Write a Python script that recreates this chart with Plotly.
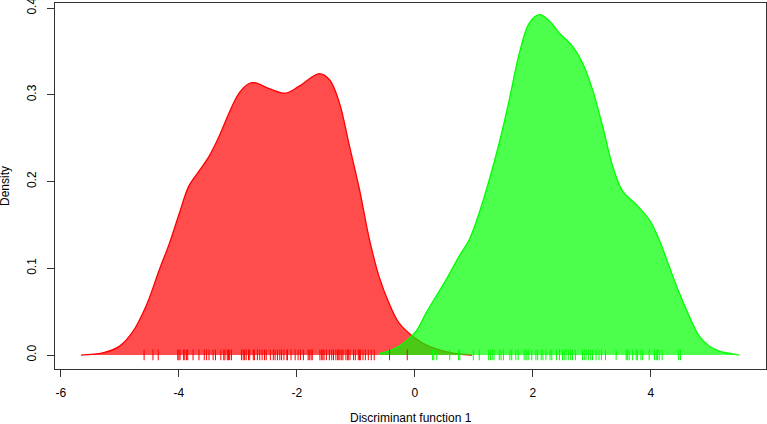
import plotly.graph_objects as go

# Density curve of group 1 (red)
red_x = [-5.66, -5.29, -5.01, -4.79, -4.56, -4.33, -4.16, -3.99, -3.83, -3.66, -3.49,
         -3.32, -3.15, -2.98, -2.81, -2.70, -2.47, -2.19, -1.96, -1.62, -1.45, -1.28,
         -1.11, -0.94, -0.77, -0.61, -0.44, -0.27, -0.04, 0.24, 0.58, 0.75, 0.97]
red_y = [0.0, 0.0025, 0.010, 0.026, 0.056, 0.0986, 0.129, 0.164, 0.195, 0.212, 0.229,
         0.252, 0.279, 0.302, 0.313, 0.3138, 0.307, 0.3018, 0.310, 0.3245, 0.3176, 0.2907,
         0.241, 0.191, 0.133, 0.091, 0.060, 0.037, 0.0217, 0.010, 0.0032, 0.0012, 0.0]

# Density curve of group 2 (green)
green_x = [-0.61, -0.38, -0.15, 0.02, 0.19, 0.36, 0.53, 0.75, 0.92, 1.09, 1.26, 1.43,
           1.60, 1.77, 1.94, 2.11, 2.28, 2.45, 2.67, 2.84, 3.01, 3.18, 3.35, 3.52, 3.75,
           3.97, 4.14, 4.31, 4.48, 4.65, 4.82, 4.99, 5.16, 5.50]
green_y = [0.0017, 0.0063, 0.016, 0.0274, 0.0486, 0.068, 0.087, 0.114, 0.133, 0.164,
           0.202, 0.245, 0.2945, 0.348, 0.383, 0.3925, 0.385, 0.371, 0.356, 0.337, 0.306,
           0.264, 0.218, 0.189, 0.1735, 0.156, 0.133, 0.102, 0.0717, 0.0447, 0.0217,
           0.0101, 0.0044, 0.0]

# Rug observations
red_rug = [-4.59, -4.44, -4.35, -4.02, -4.00, -3.98, -3.92, -3.90, -3.87, -3.85, -3.76,
           -3.66, -3.57, -3.53, -3.49, -3.42, -3.38, -3.29, -3.24, -3.22, -3.18, -3.16,
           -3.14, -3.11, -2.94, -2.91, -2.89, -2.86, -2.82, -2.80, -2.74, -2.72, -2.67,
           -2.63, -2.59, -2.55, -2.52, -2.45, -2.40, -2.37, -2.33, -2.29, -2.26, -2.22,
           -2.17, -2.16, -2.10, -2.03, -1.98, -1.94, -1.89, -1.81, -1.79, -1.76, -1.74,
           -1.61, -1.58, -1.56, -1.54, -1.50, -1.45, -1.41, -1.38, -1.34, -1.31, -1.29,
           -1.27, -1.24, -1.22, -1.17, -1.14, -1.13, -1.10, -1.04, -1.01, -0.96, -0.94,
           -0.92, -0.88, -0.84, -0.79, -0.74, -0.69, -0.43, -0.13]
green_rug = [0.30, 0.32, 0.37, 0.59, 0.74, 0.76, 0.99, 1.09, 1.25, 1.28, 1.31, 1.34,
             1.43, 1.46, 1.50, 1.61, 1.64, 1.71, 1.75, 1.85, 1.88, 1.90, 1.93, 1.98,
             2.05, 2.08, 2.14, 2.17, 2.22, 2.29, 2.32, 2.40, 2.45, 2.50, 2.53, 2.56,
             2.60, 2.64, 2.67, 2.72, 2.84, 2.87, 2.90, 2.94, 2.98, 3.01, 3.07, 3.12,
             3.16, 3.23, 3.41, 3.58, 3.60, 3.63, 3.69, 3.75, 3.77, 3.83, 3.86, 3.97,
             4.06, 4.09, 4.11, 4.14, 4.19, 4.47, 4.50]
rug_span = [-0.006, 0.0063]

x_ticks = [-6, -4, -2, 0, 2, 4]
y_ticks = [0.0, 0.1, 0.2, 0.3, 0.4]

FONT = "Liberation Sans, Arial, Helvetica, sans-serif"


def rug_coords(vals):
    xs, ys = [], []
    for v in vals:
        xs += [v, v, None]
        ys += [rug_span[0], rug_span[1], None]
    return xs, ys


fig = go.Figure()
fig.add_trace(go.Scatter(x=red_x, y=red_y, mode="lines", fill="tozeroy",
                         line=dict(color="rgb(255,0,0)", width=1.3, shape="spline", smoothing=1.0),
                         fillcolor="rgba(255,0,0,0.7)", hoverinfo="skip"))
fig.add_trace(go.Scatter(x=green_x, y=green_y, mode="lines", fill="tozeroy",
                         line=dict(color="rgb(0,255,0)", width=1.3, shape="spline", smoothing=1.0),
                         fillcolor="rgba(0,255,0,0.7)", hoverinfo="skip"))
rx, ry = rug_coords(red_rug)
fig.add_trace(go.Scatter(x=rx, y=ry, mode="lines", line=dict(color="rgb(255,0,0)", width=1),
                         hoverinfo="skip"))
gx, gy = rug_coords(green_rug)
fig.add_trace(go.Scatter(x=gx, y=gy, mode="lines", line=dict(color="rgb(0,255,0)", width=1),
                         hoverinfo="skip"))

axis_common = dict(showgrid=False, zeroline=False, showline=True, mirror=True,
                   linecolor="#333333", linewidth=1, ticks="outside", ticklen=7,
                   tickcolor="#333333", tickwidth=1, automargin=False,
                   tickfont=dict(family=FONT, size=12, color="black"))

fig.update_layout(
    width=767, height=424,
    margin=dict(l=55, r=1, t=3, b=55, autoexpand=False),
    paper_bgcolor="white", plot_bgcolor="white",
    showlegend=False,
    xaxis=dict(range=[-6.1, 5.95], tickvals=x_ticks, ticktext=[str(v) for v in x_ticks],
               ticklabelstandoff=6, **axis_common),
    yaxis=dict(range=[-0.0161, 0.4058], tickvals=y_ticks,
               ticktext=["%.1f" % v for v in y_ticks], tickangle=-90,
               ticklabeloverflow="allow", ticklabelstandoff=6, **axis_common),
    annotations=[
        dict(text="Discriminant function 1", xref="paper", yref="paper", x=0.5, y=-0.134,
             xanchor="center", yanchor="middle", showarrow=False,
             font=dict(family=FONT, size=12, color="black")),
        dict(text="Density", xref="paper", yref="paper", x=-0.0703, y=0.5,
             xanchor="center", yanchor="middle", textangle=-90, showarrow=False,
             font=dict(family=FONT, size=12, color="black")),
    ],
)

fig.write_html("out.html", config={"displayModeBar": False, "staticPlot": True},
               post_script="document.body.style.margin='0';document.body.style.overflow='hidden';")
